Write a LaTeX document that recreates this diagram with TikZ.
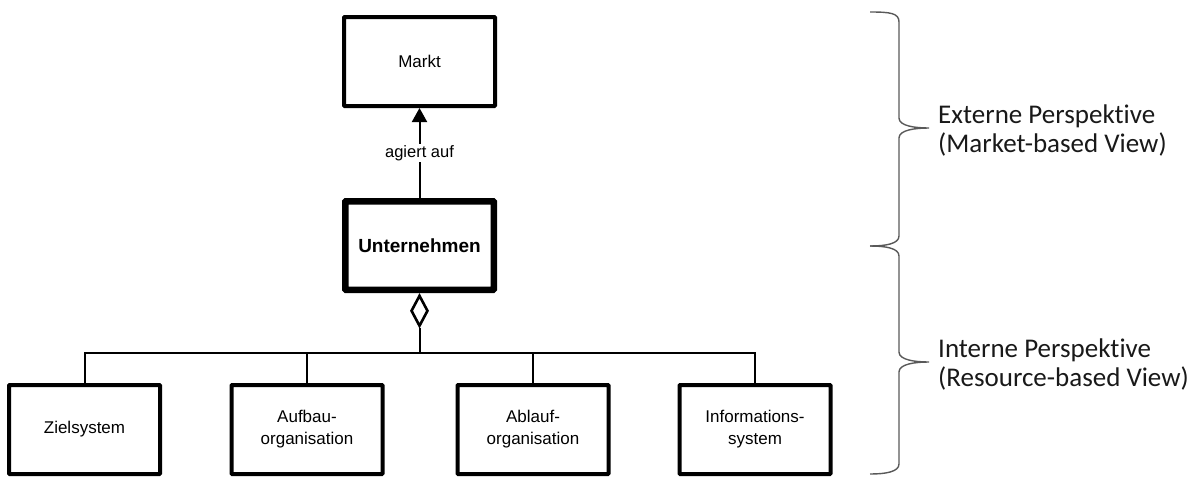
\documentclass[tikz,border=0pt]{standalone}
\usepackage{fontspec}
\setsansfont{Liberation Sans}
\newfontfamily\bracefont[Ligatures={NoCommon}]{Carlito}
\usetikzlibrary{arrows.meta,shapes.geometric}

\tikzset{
  entity/.style={draw=black, line width=4pt, rectangle, rounded corners=0.8pt,
    minimum width=151pt, minimum height=89pt, inner sep=2pt, align=center,
    font=\sffamily\fontsize{17}{22}\selectfont},
  mainentity/.style={entity, line width=6.5pt, minimum width=148.5pt, minimum height=88.5pt,
    font=\sffamily\bfseries\fontsize{19}{22}\selectfont},
  link/.style={draw=black, line width=2pt},
  aggr/.style={draw=black, line width=2.6pt, fill=white, diamond, inner sep=0pt,
    minimum width=17pt, minimum height=31pt},
  bracepath/.style={draw=black!65, line width=1.4pt},
  perspective/.style={anchor=west, align=left, inner sep=0pt,
    font=\bracefont\fontsize{27}{29}\selectfont, text=black!90}
}

\begin{document}
\begin{tikzpicture}[x=1pt,y=-1pt]
\useasboundingbox (0,0) rectangle (1189,477);

% upper level
\node[entity] (markt) at (419.5,61.5) {Markt};
\node[mainentity] (firma) at (419.5,245.5) {Unternehmen};

\draw[link, -{Triangle[length=14pt,width=15pt]}] (firma.north) -- (markt.south)
  node[midway, fill=white, inner sep=1.5pt, font=\sffamily\fontsize{16.5}{18}\selectfont] (label) {agiert auf};

% aggregation diamond
\node[aggr, anchor=north] (dia) at ([yshift=-1pt]firma.south) {};

% lower level
\node[entity] (ziel)   at (84.5,429.5) {Zielsystem};
\node[entity] (aufbau) at (307,429.5) {Aufbau-\\organisation};
\node[entity] (ablauf) at (533,429.5) {Ablauf-\\organisation};
\node[entity] (info)   at (755,429.5) {Informations-\\system};

\coordinate (bus) at (0,353);
\draw[link] (dia.south) -- (dia.south |- bus);
\draw[link] (ziel.north) -- (ziel.north |- bus) -- (info.north |- bus) -- (info.north);
\draw[link] (aufbau.north) -- (aufbau.north |- bus);
\draw[link] (ablauf.north) -- (ablauf.north |- bus);

% perspective braces
\draw[bracepath] (870,12) .. controls (890,12) and (899,13) .. (899,22) -- (899,118)
  .. controls (899,126) and (915,128) .. (929,128)
  .. controls (915,128) and (899,130) .. (899,138) -- (899,236)
  .. controls (899,244) and (885,246) .. (870,246);
\draw[bracepath] (870,246) .. controls (885,246) and (899,248) .. (899,256) -- (899,352)
  .. controls (899,360) and (915,362) .. (929,362)
  .. controls (915,362) and (899,364) .. (899,372) -- (899,464)
  .. controls (899,472) and (885,474) .. (870,474);

\node[perspective] (ext) at (938,130) {Externe Perspektive\\(Market-based View)};
\node[perspective] (int) at (938,364) {Interne Perspektive\\(Resource-based View)};
\end{tikzpicture}
\end{document}
